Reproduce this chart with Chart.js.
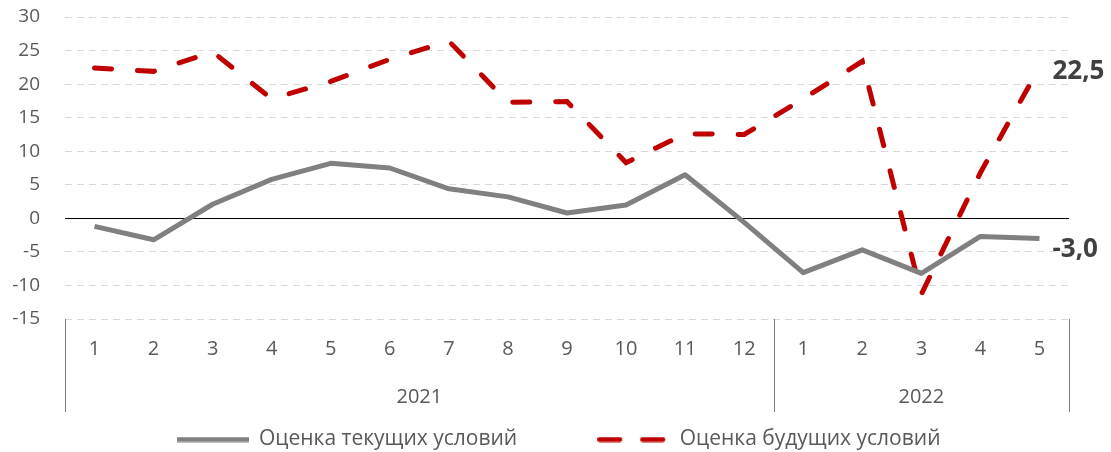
<!DOCTYPE html>
<html lang="ru">
<head>
<meta charset="UTF-8">
<title>Оценка условий</title>
<script src="https://cdn.jsdelivr.net/npm/chart.js"></script>
<style>
  html, body { margin: 0; padding: 0; background: #fff; }
</style>
</head>
<body>
<canvas id="myChart" width="1111" height="452"></canvas>
<script>
// данные
const months = ['1','2','3','4','5','6','7','8','9','10','11','12','1','2','3','4','5'];
const years = ['2021', '2022'];
const yearSizes = [12, 5];
const current = [-1.2, -3.2, 2.1, 5.8, 8.2, 7.5, 4.4, 3.2, 0.8, 2.0, 6.5, -0.6, -8.1, -4.7, -8.2, -2.7, -3.0];
const future = [22.4, 21.9, 24.8, 17.8, 20.4, 23.7, 26.4, 17.3, 17.4, 8.3, 12.6, 12.5, 17.8, 23.4, -11.3, 6.8, 22.5];
const yMin = -15, yMax = 30, yStep = 5;

const FONT = "'Open Sans', 'Noto Sans', sans-serif";
const TEXT = '#595959';

// образец линии для легенды
function lineSample(color, dash) {
  const c = document.createElement('canvas');
  c.width = 72;
  c.height = 6;
  const g = c.getContext('2d');
  g.strokeStyle = color;
  g.lineWidth = 5;
  g.lineCap = dash.length ? 'round' : 'butt';
  g.setLineDash(dash);
  g.beginPath();
  g.moveTo(dash.length ? 2.5 : 0, 3);
  g.lineTo(dash.length ? 69.5 : 72, 3);
  g.stroke();
  return c;
}

// годы под осью, разделители и подписи последних точек
const extras = {
  id: 'extras',
  afterLayout(chart) {
    const lg = chart.legend;
    const h = lg.height;
    lg.top = chart.chartArea.bottom + 30;
    lg.bottom = lg.top + h;
    lg.left += 48;
  },
  afterDraw(chart) {
    const ctx = chart.ctx;
    const x = chart.scales.x;
    const area = chart.chartArea;
    const step = x.getPixelForValue(1) - x.getPixelForValue(0);
    ctx.save();
    ctx.strokeStyle = '#7f7f7f';
    ctx.lineWidth = 1;
    ctx.fillStyle = TEXT;
    ctx.font = '20px ' + FONT;
    ctx.textAlign = 'center';
    ctx.textBaseline = 'middle';
    let start = 0;
    const edges = [x.getPixelForValue(0) - step / 2];
    years.forEach((yr, i) => {
      const end = start + yearSizes[i] - 1;
      edges.push(x.getPixelForValue(end) + step / 2);
      const cx = (x.getPixelForValue(start) + x.getPixelForValue(end)) / 2;
      ctx.fillText(yr, cx, area.bottom + 78);
      start = end + 1;
    });
    edges.forEach(px => {
      const xx = Math.round(px) + 0.5;
      ctx.beginPath();
      ctx.moveTo(xx, area.bottom);
      ctx.lineTo(xx, area.bottom + 93);
      ctx.stroke();
    });

    // подписи значений на последних точках
    ctx.font = 'bold 26px ' + FONT;
    ctx.fillStyle = '#404040';
    ctx.textAlign = 'left';
    const shifts = [11, 4];
    chart.data.datasets.forEach((ds, i) => {
      const meta = chart.getDatasetMeta(i);
      const last = meta.data[meta.data.length - 1];
      const v = ds.data[ds.data.length - 1];
      ctx.fillText(v.toFixed(1).replace('.', ','), last.x + 13, last.y + shifts[i]);
    });
    ctx.restore();
  }
};

const ctx = document.getElementById('myChart').getContext('2d');
const chart = new Chart(ctx, {
  type: 'line',
  data: {
    labels: months,
    datasets: [{
      label: 'Оценка текущих условий',
      data: current,
      borderColor: '#808080',
      backgroundColor: '#808080',
      borderWidth: 5,
      borderJoinStyle: 'round',
      pointRadius: 0,
      tension: 0
    }, {
      label: 'Оценка будущих условий',
      data: future,
      borderColor: '#c00000',
      backgroundColor: '#c00000',
      borderWidth: 5,
      borderDash: [17, 26],
      borderCapStyle: 'round',
      pointRadius: 0,
      tension: 0
    }]
  },
  options: {
    responsive: false,
    animation: false,
    layout: { padding: { left: 0, right: 42, top: 17, bottom: -30 } },
    plugins: {
      tooltip: { enabled: false },
      legend: {
        position: 'bottom',
        labels: {
          usePointStyle: true,
          pointStyleWidth: 72,
          boxHeight: 21,
          padding: 80,
          color: TEXT,
          font: { family: FONT, size: 21 },
          generateLabels(chart) {
            const items = Chart.defaults.plugins.legend.labels.generateLabels(chart);
            items.forEach((it, i) => {
              const ds = chart.data.datasets[i];
              it.pointStyle = lineSample(ds.borderColor, ds.borderDash ? [20, 23] : []);
            });
            return items;
          }
        }
      }
    },
    scales: {
      x: {
        offset: true,
        grid: { display: false },
        border: { display: false },
        ticks: {
          color: TEXT,
          font: { family: FONT, size: 20 },
          padding: 10,
          maxRotation: 0,
          autoSkip: false
        },
        afterFit(scale) { scale.height = 52; }
      },
      y: {
        min: yMin,
        max: yMax,
        ticks: {
          stepSize: yStep,
          color: TEXT,
          font: { family: FONT, size: 19 },
          padding: 25
        },
        grid: {
          drawTicks: false,
          color: c => (c.tick && c.tick.value === 0) ? '#000000' : '#d9d9d9',
          lineWidth: 1
        },
        border: {
          display: false,
          dash: c => (c.tick && c.tick.value === 0) ? [] : [7, 5]
        },
        afterFit(scale) { scale.width = 65; scale.paddingTop = 0; scale.paddingBottom = 0; }
      }
    }
  },
  plugins: [extras]
});
</script>
</body>
</html>
